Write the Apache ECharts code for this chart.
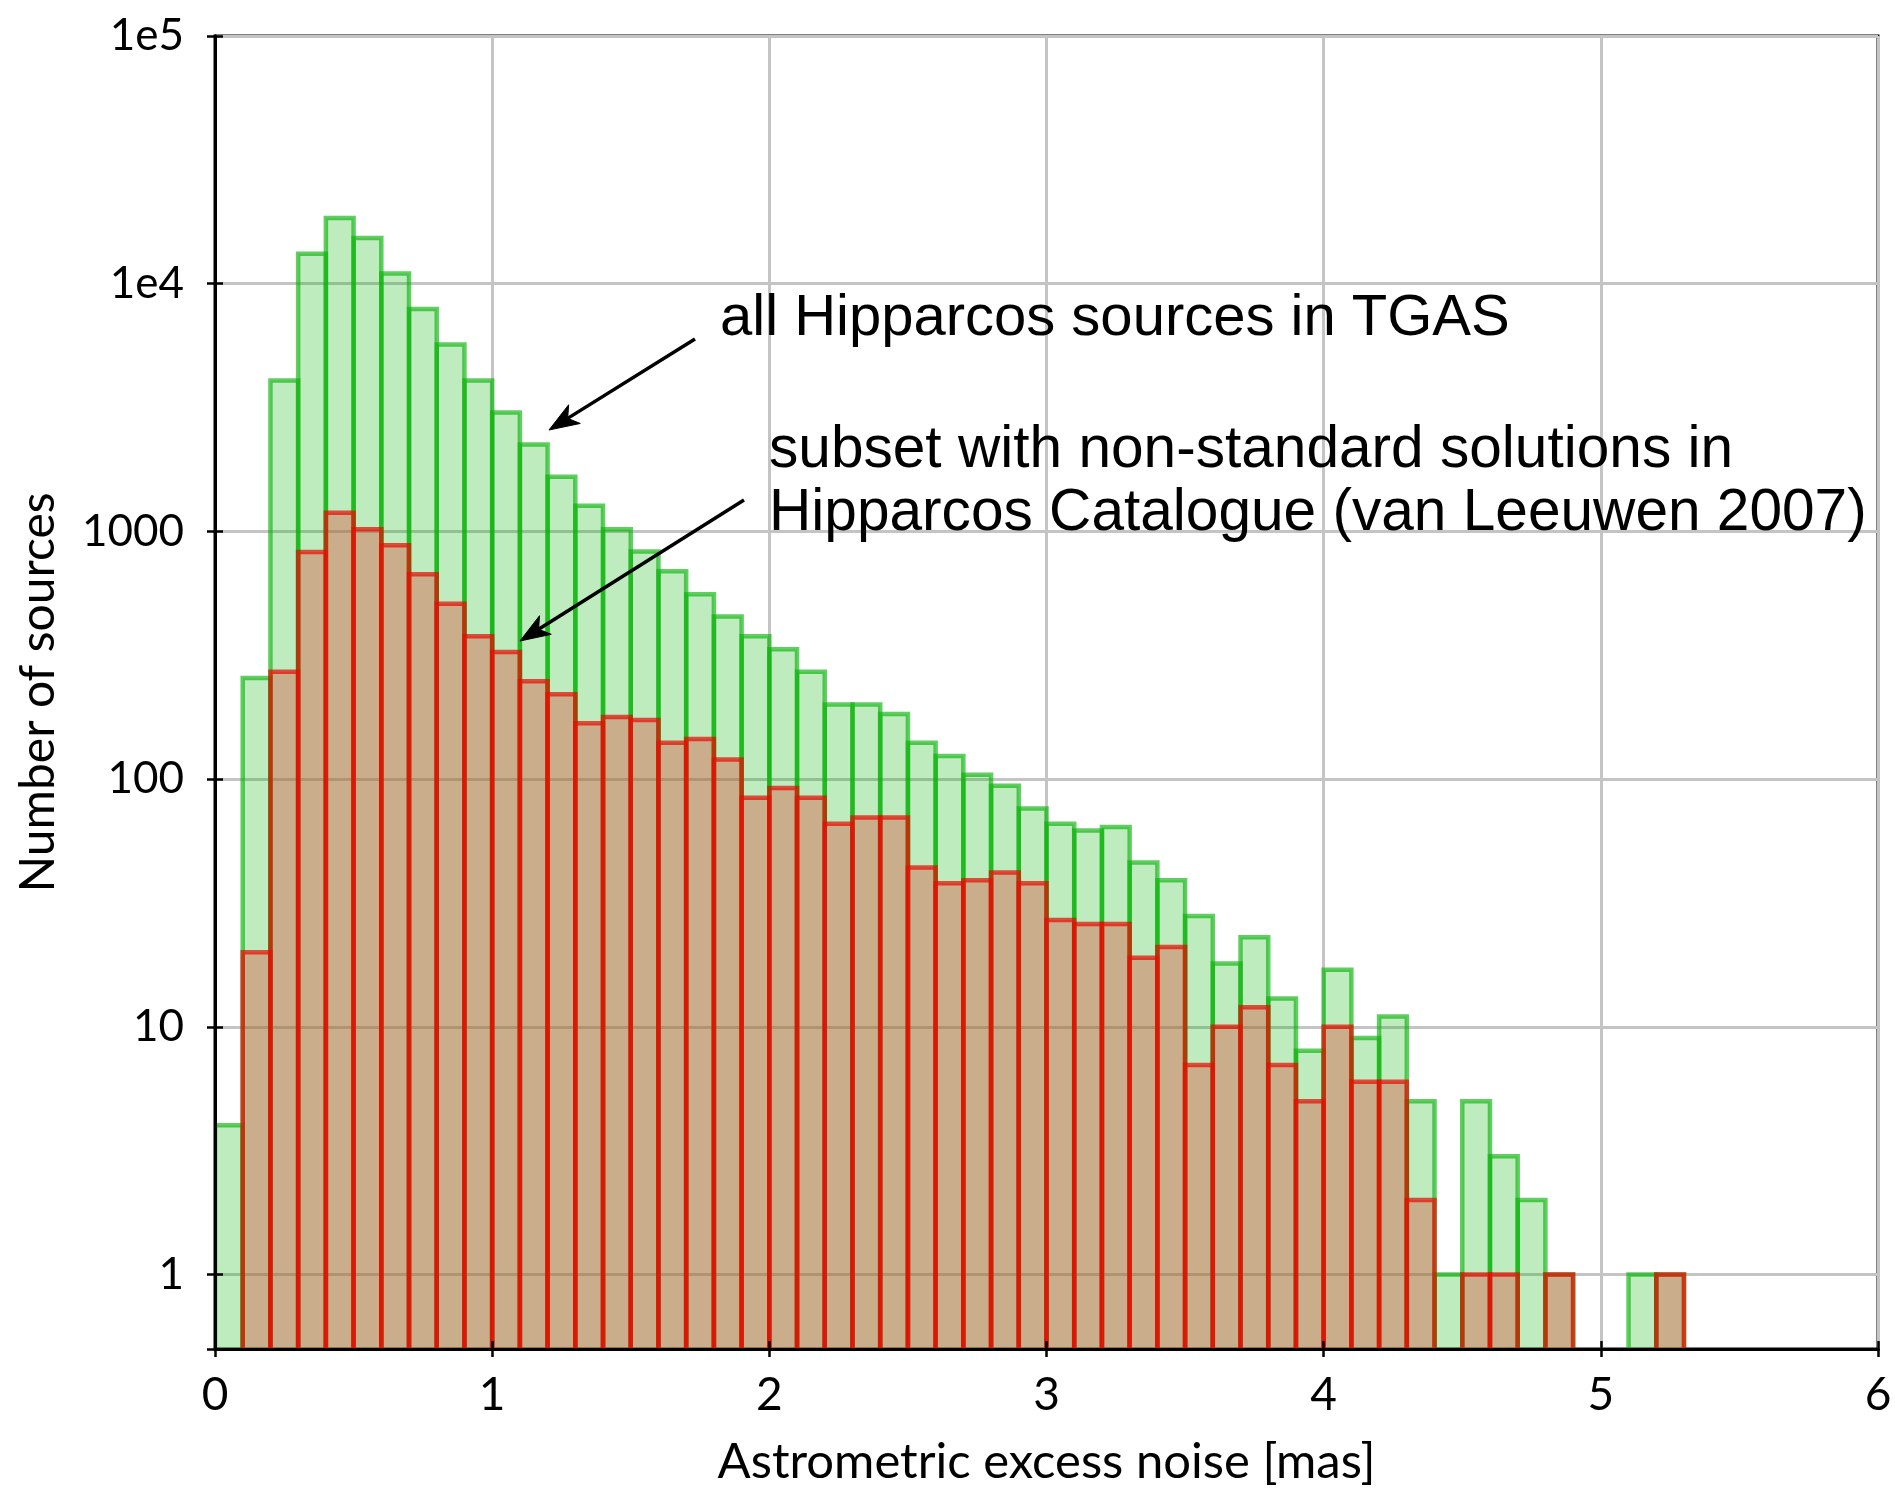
<!DOCTYPE html>
<html>
<head>
<meta charset="utf-8">
<script src="https://cdn.jsdelivr.net/npm/echarts@6/dist/echarts.min.js"></script>
<style>
  html, body { margin: 0; padding: 0; background: #fff; }
  #chart { width: 1895px; height: 1492px; }
</style>
</head>
<body>
<div id="chart"></div>
<script>
// Histogram of astrometric excess noise, bins of 0.1 mas from 0 to 6 mas.
const binWidth = 0.1;

// All Hipparcos sources in TGAS (counts per bin)
const allHipparcos = [
  4, 256, 4070, 13200, 18400, 15300, 11000, 7900, 5680, 4070,
  3020, 2240, 1660, 1270, 1020, 830, 690, 557, 453, 377,
  334, 271, 200, 200, 183, 140, 124, 104, 94, 76,
  66, 62, 64, 46, 39, 28, 18, 23, 13, 8,
  17, 9, 11, 5, 1, 5, 3, 2, 1, 0,
  0, 1, 1, 0, 0, 0, 0, 0, 0, 0
];

// Subset with non-standard solutions in the Hipparcos Catalogue
const nonStandard = [
  0, 20, 271, 826, 1190, 1020, 879, 671, 510, 377,
  326, 248, 220, 168, 178, 173, 140, 145, 120, 84,
  92, 84, 66, 70, 70, 44, 38, 39, 42, 38,
  27, 26, 26, 19, 21, 7, 10, 12, 7, 5,
  10, 6, 6, 2, 0, 1, 1, 0, 1, 0,
  0, 0, 1, 0, 0, 0, 0, 0, 0, 0
];

const xTicks = [0, 1, 2, 3, 4, 5, 6];
const yTickLabels = ['1', '10', '100', '1000', '1e4', '1e5'];

const yMin = 0.5, yMax = 1e5;
const xMin = 0, xMax = 6;

function toBins(counts) {
  const out = [];
  counts.forEach(function (c, i) {
    if (c > 0) out.push([i * binWidth, (i + 1) * binWidth, c]);
  });
  return out;
}

function histRenderer(fill, stroke) {
  return function (params, api) {
    const x0 = api.value(0), x1 = api.value(1), c = api.value(2);
    const pTop = api.coord([x0, c]);
    const pBot = api.coord([x1, yMin]);
    return {
      type: 'rect',
      shape: {
        x: pTop[0],
        y: pTop[1],
        width: pBot[0] - pTop[0],
        height: pBot[1] + 12 - pTop[1]
      },
      style: { fill: fill, stroke: stroke, lineWidth: 4.5 }
    };
  };
}

function yLabel(v) {
  const e = Math.log10(v);
  const r = Math.round(e);
  if (Math.abs(e - r) > 1e-6 || r < 0 || r >= yTickLabels.length) return '';
  return yTickLabels[r];
}

const axisFont = 'Lato, "DejaVu Sans", sans-serif';
const noteFont = '"Liberation Sans", Arial, sans-serif';

const chart = echarts.init(document.getElementById('chart'), null, { renderer: 'canvas' });

// Arrow from (x1,y1) to the tip (x2,y2) with a filled notched head
function arrow(x1, y1, x2, y2) {
  const dx = x2 - x1, dy = y2 - y1;
  const len = Math.sqrt(dx * dx + dy * dy);
  const ux = dx / len, uy = dy / len;
  const nx = -uy, ny = ux;
  const headLen = 30, headW = 11, notch = 8;
  const bx = x2 - ux * headLen, by = y2 - uy * headLen;
  const mx = x2 - ux * (headLen - notch), my = y2 - uy * (headLen - notch);
  return [
    {
      type: 'polyline',
      shape: { points: [[x1, y1], [mx, my]] },
      style: { stroke: '#000', lineWidth: 3.5, fill: null },
      z: 100
    },
    {
      type: 'polygon',
      shape: { points: [[x2, y2], [bx + nx * headW, by + ny * headW], [mx, my], [bx - nx * headW, by - ny * headW]] },
      style: { fill: '#000', stroke: '#000', lineWidth: 1 },
      z: 100
    }
  ];
}

const option = {
  animation: false,
  backgroundColor: '#fff',
  grid: {
    left: 215, right: 17, top: 36, bottom: 139,
    show: true, borderColor: '#000', borderWidth: 3, backgroundColor: 'transparent'
  },
  xAxis: [
    {
      type: 'value', min: xMin, max: xMax, interval: 1, position: 'bottom',
      name: 'Astrometric excess noise [mas]', nameLocation: 'middle', nameGap: 89,
      nameTextStyle: { fontFamily: axisFont, fontSize: 49, color: '#000' },
      axisLine: { show: true, lineStyle: { color: '#000', width: 3 } },
      axisTick: { show: true, inside: false, length: 8, lineStyle: { color: '#000', width: 2.5 } },
      axisLabel: {
        show: true, margin: 23, fontFamily: axisFont, fontSize: 46, color: '#000',
        formatter: function (v) { return xTicks.indexOf(v) >= 0 ? String(v) : ''; }
      },
      splitLine: { show: true, lineStyle: { color: '#c4c4c4', width: 3 } }
    },
    {
      type: 'value', min: xMin, max: xMax, interval: 1, position: 'bottom', z: 10,
      axisLine: { show: true, lineStyle: { color: '#000', width: 3 } },
      axisTick: { show: true, inside: true, length: 8, lineStyle: { color: '#000', width: 2.5 } },
      axisLabel: { show: false },
      splitLine: { show: false }
    }
  ],
  yAxis: [
    {
      type: 'log', logBase: 10, min: yMin, max: yMax, position: 'left',
      name: 'Number of sources', nameLocation: 'middle', nameGap: 152, nameRotate: 90,
      nameTextStyle: { fontFamily: axisFont, fontSize: 48, color: '#000' },
      axisLine: { show: true, lineStyle: { color: '#000', width: 3 } },
      axisTick: { show: true, inside: false, length: 8, lineStyle: { color: '#000', width: 2.5 } },
      axisLabel: { show: true, margin: 31, fontFamily: axisFont, fontSize: 44, color: '#000', formatter: yLabel },
      splitLine: { show: true, lineStyle: { color: '#c4c4c4', width: 3 } },
      minorTick: { show: false }
    },
    {
      type: 'log', logBase: 10, min: yMin, max: yMax, position: 'left', z: 10,
      axisLine: { show: true, lineStyle: { color: '#000', width: 3 } },
      axisTick: { show: true, inside: true, length: 8, lineStyle: { color: '#000', width: 2.5 } },
      axisLabel: { show: false },
      splitLine: { show: false }
    }
  ],
  series: [
    {
      name: 'all Hipparcos sources in TGAS',
      type: 'custom', xAxisIndex: 0, yAxisIndex: 0, clip: true,
      renderItem: histRenderer('rgba(0,180,0,0.25)', 'rgba(10,180,10,0.65)'),
      encode: { x: [0, 1], y: 2 },
      data: toBins(allHipparcos),
      z: 2
    },
    {
      name: 'non-standard solutions',
      type: 'custom', xAxisIndex: 0, yAxisIndex: 0, clip: true,
      renderItem: histRenderer('rgba(220,80,60,0.4)', 'rgba(230,10,0,0.7)'),
      encode: { x: [0, 1], y: 2 },
      data: toBins(nonStandard),
      z: 3
    }
  ],
  graphic: [
    {
      type: 'text', left: 720, top: 319 - 29, z: 100,
      style: { text: 'all Hipparcos sources in TGAS', fontFamily: noteFont, fontSize: 58, fill: '#000' }
    },
    {
      type: 'text', left: 769, top: 450 - 29, z: 100,
      style: { text: 'subset with non-standard solutions in', fontFamily: noteFont, fontSize: 58.6, fill: '#000' }
    },
    {
      type: 'text', left: 769, top: 513 - 29, z: 100,
      style: { text: 'Hipparcos Catalogue (van Leeuwen 2007)', fontFamily: noteFont, fontSize: 58.6, fill: '#000' }
    }
  ].concat(arrow(695, 339, 549, 430)).concat(arrow(744, 500, 520, 641))
};

chart.setOption(option);
</script>
</body>
</html>
